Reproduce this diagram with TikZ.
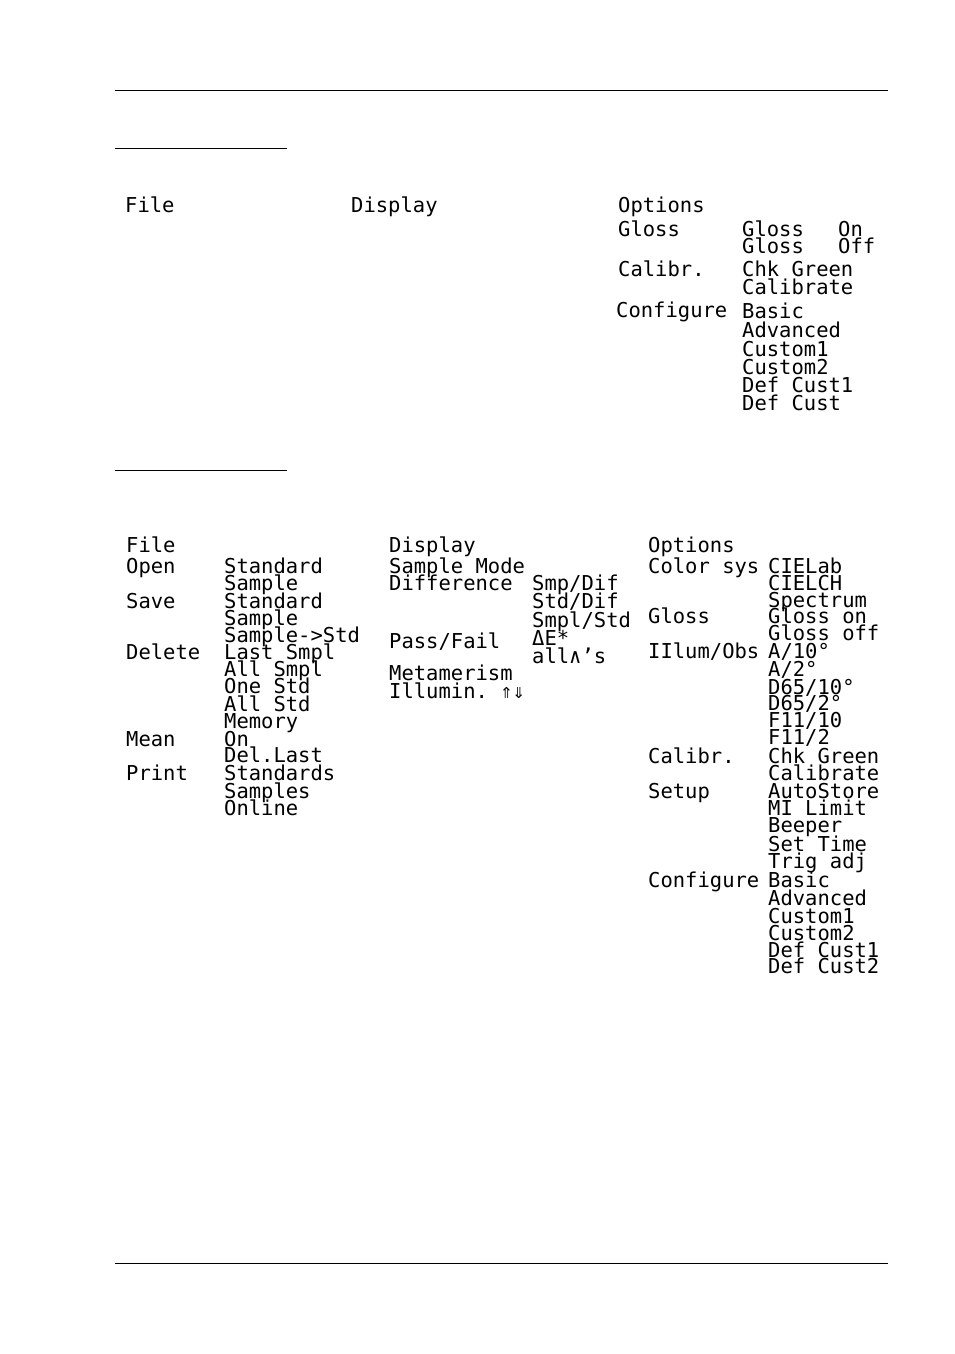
\documentclass[tikz,border=0pt]{standalone}
\usepackage{fontspec}
\setmonofont{DejaVu Sans Mono}
\newcommand\lbl[4]{\node[lbl] (#1) at (#2,#3+7) {#4};}
\begin{document}
\begin{tikzpicture}[x=1pt,y=-1pt,
  lbl/.style={anchor=base west,inner sep=0pt,font=\fontsize{20.5}{21}\ttfamily},
  rule/.style={line width=0.8pt}]
\useasboundingbox (0,0) rectangle (954,1354);
\coordinate (r1a) at (115,90); \coordinate (r1b) at (888,90);
\coordinate (r2a) at (115,1263); \coordinate (r2b) at (888,1263);
\coordinate (s1a) at (115,148); \coordinate (s1b) at (287,148);
\coordinate (s2a) at (115,470); \coordinate (s2b) at (287,470);
\draw[rule] (r1a) -- (r1b); \draw[rule] (r2a) -- (r2b);
\draw[rule] (s1a) -- (s1b); \draw[rule] (s2a) -- (s2b);
% top
\lbl{a1}{125}{205}{File}
\lbl{a2}{351}{205}{Display}
\lbl{a3}{618}{205}{Options}
\lbl{a4}{618}{229}{Gloss}
\lbl{a5}{742}{229}{Gloss}
\lbl{a6}{838}{229}{On}
\lbl{a7}{742}{246}{Gloss}
\lbl{a8}{838}{246}{Off}
\lbl{a9}{618}{269}{Calibr.}
\lbl{a10}{742}{269}{Chk Green}
\lbl{a11}{742}{287}{Calibrate}
\lbl{a12}{616}{310}{Configure}
\lbl{a13}{742}{311}{Basic}
\lbl{a14}{742}{330}{Advanced}
\lbl{a15}{742}{349}{Custom1}
\lbl{a16}{742}{367}{Custom2}
\lbl{a17}{742}{385}{Def Cust1}
\lbl{a18}{742}{403}{Def Cust}
% bottom col 1
\lbl{b1}{126}{545}{File}
\lbl{b2}{126}{566}{Open}
\lbl{b3}{126}{601}{Save}
\lbl{b4}{126}{652}{Delete}
\lbl{b5}{126}{739}{Mean}
\lbl{b6}{126}{773}{Print}
\lbl{c1}{224}{566}{Standard}
\lbl{c2}{224}{583}{Sample}
\lbl{c3}{224}{601}{Standard}
\lbl{c4}{224}{618}{Sample}
\lbl{c5}{224}{635}{Sample->Std}
\lbl{c6}{224}{652}{Last Smpl}
\lbl{c7}{224}{669}{All Smpl}
\lbl{c8}{224}{686}{One Std}
\lbl{c9}{224}{704}{All Std}
\lbl{c10}{224}{721}{Memory}
\lbl{c11}{224}{739}{On}
\lbl{c12}{224}{755}{Del.Last}
\lbl{c13}{224}{773}{Standards}
\lbl{c14}{224}{791}{Samples}
\lbl{c15}{224}{808}{Online}
% display
\lbl{d1}{389}{545}{Display}
\lbl{d2}{389}{566}{Sample Mode}
\lbl{d3}{389}{583}{Difference}
\lbl{d4}{389}{641}{Pass/Fail}
\lbl{d5}{389}{673}{Metamerism}
\lbl{d6}{389}{691}{Illumin. ⇑⇓}
\lbl{e1}{532}{583}{Smp/Dif}
\lbl{e2}{532}{601}{Std/Dif}
\lbl{e3}{532}{620}{Smpl/Std}
\lbl{e4}{532}{638}{ΔE*}
\lbl{e5}{532}{656}{all∧’s}
% options
\lbl{f1}{648}{545}{Options}
\lbl{f2}{648}{566}{Color sys}
\lbl{f3}{648}{616}{Gloss}
\lbl{f4}{648}{651}{IIlum/Obs}
\lbl{f5}{648}{756}{Calibr.}
\lbl{f6}{648}{791}{Setup}
\lbl{f7}{648}{880}{Configure}
\lbl{g1}{768}{566}{CIELab}
\lbl{g2}{768}{583}{CIELCH}
\lbl{g3}{768}{600}{Spectrum}
\lbl{g4}{768}{616}{Gloss on}
\lbl{g5}{768}{633}{Gloss off}
\lbl{g6}{768}{651}{A/10°}
\lbl{g7}{768}{669}{A/2°}
\lbl{g8}{768}{687}{D65/10°}
\lbl{g9}{768}{703}{D65/2°}
\lbl{g10}{768}{720}{F11/10}
\lbl{g11}{768}{737}{F11/2}
\lbl{g12}{768}{756}{Chk Green}
\lbl{g13}{768}{773}{Calibrate}
\lbl{g14}{768}{791}{AutoStore}
\lbl{g15}{768}{808}{MI Limit}
\lbl{g16}{768}{825}{Beeper}
\lbl{g17}{768}{844}{Set Time}
\lbl{g18}{768}{861}{Trig adj}
\lbl{g19}{768}{880}{Basic}
\lbl{g20}{768}{898}{Advanced}
\lbl{g21}{768}{916}{Custom1}
\lbl{g22}{768}{933}{Custom2}
\lbl{g23}{768}{950}{Def Cust1}
\lbl{g24}{768}{966}{Def Cust2}
\end{tikzpicture}
\end{document}
